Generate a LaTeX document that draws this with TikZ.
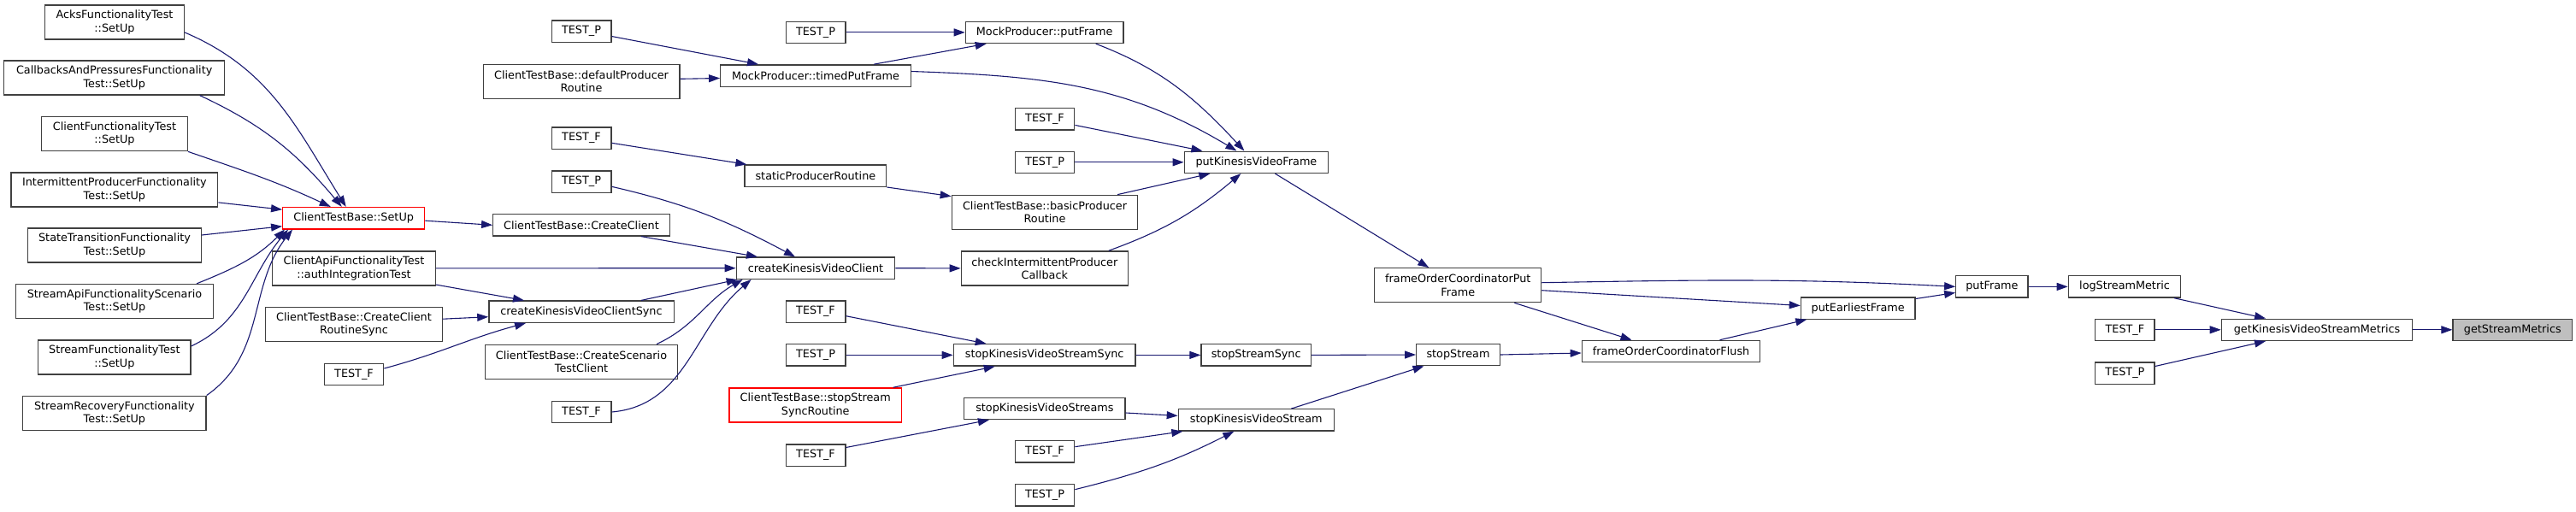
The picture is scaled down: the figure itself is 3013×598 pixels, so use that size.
\documentclass[tikz,border=0pt]{standalone}
\usepackage{fontspec}
\setmainfont{DejaVu Sans}
\usepackage{tikz}
\usetikzlibrary{arrows.meta}
\definecolor{midnightblue}{RGB}{25,25,112}
\definecolor{grey25}{RGB}{64,64,64}
\definecolor{grey75}{RGB}{191,191,191}

\begin{document}
\begin{tikzpicture}[
  x=1pt, y=-1pt,
  fn/.style={rectangle, draw=grey25, fill=white, line width=1.3pt,
    minimum height=25.3pt, inner sep=0pt, align=center,
    font=\fontsize{12.8}{15.3}\selectfont},
  fn2/.style={fn, minimum height=40pt},
  carr/.style={-{Triangle[length=13pt,width=9pt]}, line width=1.1pt, midnightblue}
]
\useasboundingbox (0,0) rectangle (3013,598);

% callers of ClientTestBase::SetUp
\node[fn2, minimum width=162.6pt] (acks)
  at (134, 25.9) {AcksFunctionalityTest\\::SetUp};
\node[fn2, minimum width=258pt] (callbacks)
  at (133.7, 91) {CallbacksAndPressuresFunctionality\\Test::SetUp};
\node[fn2, minimum width=170.6pt] (clientfunc)
  at (134, 156.7) {ClientFunctionalityTest\\::SetUp};
\node[fn2, minimum width=241.7pt] (intermittent)
  at (133.9, 221.9) {IntermittentProducerFunctionality\\Test::SetUp};
\node[fn2, minimum width=202.6pt] (statetrans)
  at (134, 287) {StateTransitionFunctionality\\Test::SetUp};
\node[fn2, minimum width=230.6pt] (streamapi)
  at (134, 352.5) {StreamApiFunctionalityScenario\\Test::SetUp};
\node[fn2, minimum width=178.3pt] (streamfunc)
  at (133.9, 417.9) {StreamFunctionalityTest\\::SetUp};
\node[fn2, minimum width=214.3pt] (streamrecovery)
  at (133.9, 483.2) {StreamRecoveryFunctionality\\Test::SetUp};

\node[fn, draw=red, minimum width=166pt] (setup)
  at (413.7, 255.2) {ClientTestBase::SetUp};
\node[fn2, minimum width=190.6pt] (authtest)
  at (414, 313.9) {ClientApiFunctionalityTest\\::authIntegrationTest};
\node[fn2, minimum width=206.6pt] (routinesync)
  at (414, 379.2) {ClientTestBase::CreateClient\\RoutineSync};
\node[fn, minimum width=69.4pt] (testfA) at (414, 438) {TEST\_F};

\node[fn, minimum width=69.7pt] (testpB) at (680, 36.5) {TEST\_P};
\node[fn2, minimum width=229.7pt] (defprod)
  at (680, 95.3) {ClientTestBase::defaultProducer\\Routine};
\node[fn, minimum width=69.7pt] (testfB) at (680, 161.7) {TEST\_F};
\node[fn, minimum width=69.7pt] (testpC) at (680, 212.7) {TEST\_P};
\node[fn, minimum width=206.6pt] (createclient)
  at (680, 263.3) {ClientTestBase::CreateClient};
\node[fn, minimum width=216.3pt] (kvcsync)
  at (680, 364.7) {createKinesisVideoClientSync};
\node[fn2, minimum width=225.4pt] (scenario)
  at (680, 423.3) {ClientTestBase::CreateScenario\\TestClient};
\node[fn, minimum width=69.7pt] (testfC) at (680, 482) {TEST\_F};

\node[fn, minimum width=69.7pt] (testpD) at (954, 37.9) {TEST\_P};
\node[fn, minimum width=222.6pt] (timedput)
  at (954, 88.5) {MockProducer::timedPutFrame};
\node[fn, minimum width=165.7pt] (staticprod)
  at (953.9, 205.7) {staticProducerRoutine};
\node[fn, minimum width=185.4pt] (kvclient)
  at (954, 313.7) {createKinesisVideoClient};
\node[fn, minimum width=69.7pt] (testfD) at (954, 364.7) {TEST\_F};
\node[fn, minimum width=69.7pt] (testpE) at (954, 415.4) {TEST\_P};
\node[fn2, draw=red, minimum width=201.3pt] (stopsyncroutine)
  at (953.7, 473.9) {ClientTestBase::stopStream\\SyncRoutine};
\node[fn, minimum width=69.7pt] (testfE) at (954, 532.5) {TEST\_F};

\node[fn, minimum width=184.7pt] (mockput)
  at (1221.7, 37.9) {MockProducer::putFrame};
\node[fn, minimum width=69.4pt] (testfF) at (1222, 139.4) {TEST\_F};
\node[fn, minimum width=69.4pt] (testpF) at (1222, 189.8) {TEST\_P};
\node[fn2, minimum width=217.4pt] (basicprod)
  at (1222, 248.3) {ClientTestBase::basicProducer\\Routine};
\node[fn2, minimum width=195pt] (checkinter)
  at (1221.8, 313.9) {checkIntermittentProducer\\Callback};
\node[fn, minimum width=212.7pt] (stopkvsync)
  at (1221.7, 415.4) {stopKinesisVideoStreamSync};
\node[fn, minimum width=188.3pt] (stopkvstreams)
  at (1221.9, 478) {stopKinesisVideoStreams};
\node[fn, minimum width=69.4pt] (testfG) at (1222, 528.4) {TEST\_F};
\node[fn, minimum width=69.4pt] (testpG) at (1222, 579.4) {TEST\_P};

\node[fn, minimum width=168.3pt] (putkvframe)
  at (1469.4, 189.8) {putKinesisVideoFrame};
\node[fn, minimum width=128.3pt] (stopstreamsync)
  at (1469.2, 415.4) {stopStreamSync};
\node[fn, minimum width=182pt] (stopkvstream)
  at (1469.3, 491.4) {stopKinesisVideoStream};

\node[fn2, minimum width=195pt] (focput)
  at (1705.3, 333.7) {frameOrderCoordinatorPut\\Frame};
\node[fn, minimum width=97.6pt] (stopstream) at (1705.5, 415) {stopStream};
\node[fn, minimum width=208.4pt] (focflush)
  at (1954.5, 411) {frameOrderCoordinatorFlush};
\node[fn, minimum width=133.7pt] (putearliest)
  at (2173.2, 360.5) {putEarliestFrame};
\node[fn, minimum width=84.3pt] (putframe) at (2329.9, 335.4) {putFrame};
\node[fn, minimum width=131.3pt] (logstream)
  at (2485, 335.4) {logStreamMetric};
\node[fn, minimum width=69.3pt] (testfH) at (2485.4, 385.8) {TEST\_F};
\node[fn, minimum width=69.3pt] (testpH) at (2485.4, 436.5) {TEST\_P};
\node[fn, minimum width=223.3pt] (getkvsm)
  at (2710, 385.8) {getKinesisVideoStreamMetrics};
\node[fn, fill=grey75, minimum width=139.5pt] (getstream)
  at (2938.8, 385.8) {getStreamMetrics};

% calls
\draw[carr] ([yshift=-12pt]acks.east) to[out=-23,in=122] ([xshift=-9pt]setup.north);
\draw[carr] ([xshift=100pt]callbacks.south) to[out=-25,in=130] ([xshift=-14pt]setup.north);
\draw[carr] (clientfunc.south east) to[out=-19,in=155] ([xshift=-27pt]setup.north);
\draw[carr] ([yshift=-15pt]intermittent.east) -- ([yshift=10pt]setup.west);
\draw[carr] ([yshift=12pt]statetrans.east) -- ([yshift=-9.5pt]setup.west);
\draw[carr] ([xshift=96pt]streamapi.north) to[out=22,in=-135] ([xshift=3pt]setup.south west);
\draw[carr] ([yshift=13pt]streamfunc.east) to[out=25,in=-130] ([xshift=7pt]setup.south west);
\draw[carr] (streamrecovery.north east) to[out=35,in=-128] ([xshift=12pt]setup.south west);

\draw[carr] ([yshift=-3pt]setup.east) -- (createclient.west);
\draw[carr] (authtest.east) -- (kvclient.west);
\draw[carr] ([yshift=1.5pt]authtest.south east) -- ([xshift=-67pt]kvcsync.north);
\draw[carr] ([yshift=6pt]routinesync.east) -- ([yshift=-6pt]kvcsync.west);
\draw[carr] ([yshift=7pt]testfA.east) to[out=15,in=-165] ([xshift=-65pt]kvcsync.south);

\draw[carr] ([yshift=-6pt]testpB.east) -- ([xshift=-67pt]timedput.north);
\draw[carr] ([yshift=3pt]defprod.east) -- ([yshift=-3pt]timedput.west);
\draw[carr] ([yshift=-5.6pt]testfB.east) -- ([xshift=3pt]staticprod.north west);
\draw[carr] ([yshift=-5.6pt]testpC.east) to[out=-13,in=152] ([xshift=-24pt]kvclient.north);
\draw[carr] ([xshift=70pt]createclient.south) -- ([xshift=-68pt]kvclient.north);
\draw[carr] ([xshift=70pt]kvcsync.north) -- ([xshift=2pt]kvclient.south west);
\draw[carr] ([xshift=88pt]scenario.north) to[out=25,in=-150] ([xshift=8pt]kvclient.south west);
\draw[carr] (testfC.east) to[out=5,in=-140] ([xshift=18pt]kvclient.south west);

\draw[carr] (testpD.east) -- (mockput.west);
\draw[carr] ([xshift=68pt]timedput.north) -- ([xshift=-68pt]mockput.south);
\draw[carr] ([yshift=5pt]timedput.east) to[out=-2,in=149] ([xshift=-23pt]putkvframe.north);
\draw[carr] (staticprod.south east) -- ([yshift=-2pt]basicprod.north west);
\draw[carr] (kvclient.east) -- (checkinter.west);
\draw[carr] ([yshift=-5pt]testfD.east) -- ([xshift=-68pt]stopkvsync.north);
\draw[carr] (testpE.east) -- (stopkvsync.west);
\draw[carr] ([xshift=91pt]stopsyncroutine.north) -- ([xshift=-58pt]stopkvsync.south);
\draw[carr] ([yshift=9pt]testfE.east) -- ([xshift=-65pt]stopkvstreams.south);

\draw[carr] ([xshift=60pt]mockput.south) to[out=-21,in=133] ([xshift=-14pt]putkvframe.north);
\draw[carr] ([yshift=-7pt]testfF.east) -- ([xshift=-63pt]putkvframe.north);
\draw[carr] (testpF.east) -- (putkvframe.west);
\draw[carr] ([xshift=85pt]basicprod.north) -- ([xshift=-54pt]putkvframe.south);
\draw[carr] ([xshift=75pt]checkinter.north) to[out=20,in=-140] ([xshift=-18pt]putkvframe.south);
\draw[carr] (stopkvsync.east) -- (stopstreamsync.west);
\draw[carr] ([yshift=-5pt]stopkvstreams.east) -- ([yshift=5pt]stopkvstream.west);
\draw[carr] ([yshift=5.7pt]testfG.east) -- ([xshift=-86pt]stopkvstream.south);
\draw[carr] ([yshift=6.7pt]testpG.east) to[out=14,in=-153] ([xshift=-26pt]stopkvstream.south);

\draw[carr] ([xshift=22pt]putkvframe.south) -- ([xshift=-34pt]focput.north);
\draw[carr] (stopstreamsync.east) -- (stopstream.west);
\draw[carr] ([xshift=41pt]stopkvstream.north) -- ([xshift=-40pt]stopstream.south);
\draw[carr] ([yshift=3pt]focput.east) to[out=1,in=177] (putframe.west);
\draw[carr] ([yshift=-6pt]focput.east) -- ([yshift=3pt]putearliest.west);
\draw[carr] ([xshift=66pt]focput.south) -- ([xshift=-46pt]focflush.north);
\draw[carr] (stopstream.east) -- ([yshift=-2pt]focflush.west);
\draw[carr] ([xshift=57pt]focflush.north) -- ([xshift=-60pt]putearliest.south);
\draw[carr] ([yshift=11pt]putearliest.east) -- ([yshift=-7pt]putframe.west);
\draw[carr] (putframe.east) -- (logstream.west);
\draw[carr] ([xshift=58pt]logstream.south) -- ([xshift=-60pt]getkvsm.north);
\draw[carr] (testfH.east) -- (getkvsm.west);
\draw[carr] ([yshift=8pt]testpH.east) -- ([xshift=-60pt]getkvsm.south);
\draw[carr] (getkvsm.east) -- (getstream.west);
\end{tikzpicture}
\end{document}
